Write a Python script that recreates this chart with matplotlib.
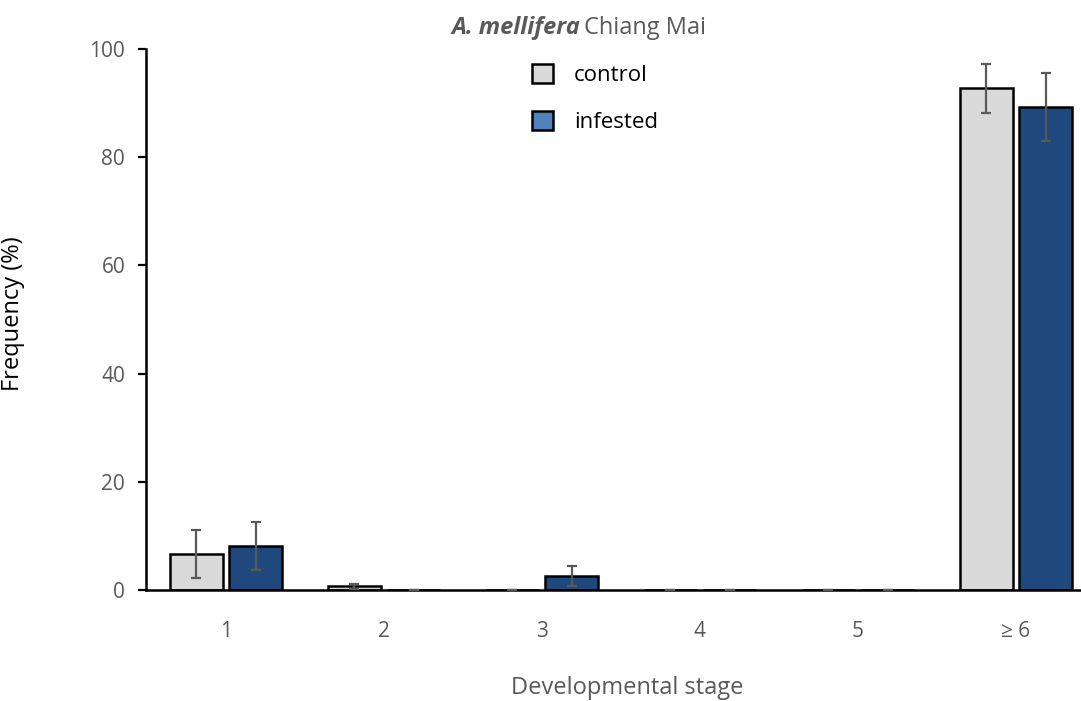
import numpy as np
import matplotlib.pyplot as plt
from matplotlib.patches import Patch

# data
stages = ["1", "2", "3", "4", "5", "≥ 6"]
control_mean = [6.6, 0.7, 0.0, 0.0, 0.0, 92.7]
control_err = [4.4, 0.5, 0.0, 0.0, 0.0, 4.6]
infested_mean = [8.1, 0.0, 2.6, 0.0, 0.0, 89.3]
infested_err = [4.4, 0.0, 1.9, 0.0, 0.0, 6.3]

gray_txt = "#595959"
plt.rcParams['font.family'] = ['Open Sans', 'DejaVu Sans']

fig = plt.figure(figsize=(10.81, 7.01), dpi=100)
ax = fig.add_axes([146/1081, 1 - 590/701, (1080-146)/1081, (590-49)/701])

x = np.arange(1, len(stages) + 1)
w = 0.34
off = 0.187
ax.bar(x - off, control_mean, w, color="#d9d9d9", edgecolor="black", linewidth=1.8, zorder=2)
ax.bar(x + off, infested_mean, w, color="#1f497d", edgecolor="black", linewidth=1.8, zorder=2)
ax.errorbar(x - off, control_mean, yerr=control_err, fmt="none", ecolor=gray_txt,
            elinewidth=1.6, capsize=3.8, capthick=1.6, zorder=3)
ax.errorbar(x + off, infested_mean, yerr=infested_err, fmt="none", ecolor=gray_txt,
            elinewidth=1.6, capsize=3.8, capthick=1.6, zorder=3)

ax.set_xlim(1 - 80/158, 6 + 64/158)
ax.set_ylim(0, 100)
ax.set_yticks([0, 20, 40, 60, 80, 100])
ax.set_xticks(x)
ax.set_xticklabels(stages)
ax.tick_params(axis="y", direction="out", length=6, width=1.6, colors="black",
               labelcolor=gray_txt, labelsize=15, pad=9)
ax.tick_params(axis="x", length=0, labelcolor=gray_txt, labelsize=15, pad=22)
for s in ["top", "right"]:
    ax.spines[s].set_visible(False)
for s in ["left", "bottom"]:
    ax.spines[s].set_linewidth(1.8)

ax.set_ylabel("Frequency (%)", fontsize=17, color="black")
ax.yaxis.set_label_coords((25 - 146)/934, 0.51)
fig.text(627/1081, 1 - 688/701, "Developmental stage", fontsize=17, color=gray_txt,
         ha="center", va="center")

# title with mixed styles
fig.text(580/1081, 1 - 28/701, "A. mellifera", fontsize=17, fontweight="bold",
         fontstyle="italic", color=gray_txt, ha="right", va="center")
fig.text(584/1081, 1 - 28/701, "Chiang Mai", fontsize=17, color=gray_txt,
         ha="left", va="center")

handles = [Patch(facecolor="#d9d9d9", edgecolor="black", linewidth=1.8),
           Patch(facecolor="#4f81bd", edgecolor="black", linewidth=1.8)]
fig.legend(handles, ["control", "infested"], loc="upper left",
           bbox_to_anchor=(532/1081, 1 - 64/701), frameon=False, fontsize=16,
           handlelength=0.95, handleheight=0.95, handletextpad=0.95, labelspacing=1.1,
           borderaxespad=0, borderpad=0)

fig.savefig("out.png", dpi=100)
